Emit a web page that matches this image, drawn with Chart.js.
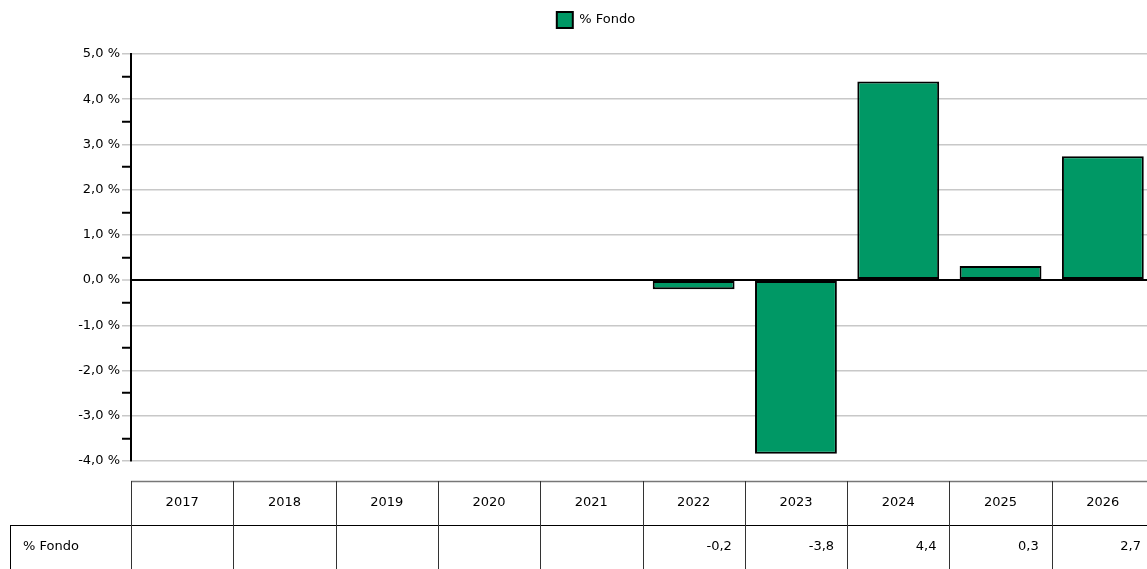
<!DOCTYPE html>
<html>
<head>
<meta charset="utf-8">
<script src="https://cdn.jsdelivr.net/npm/chart.js@4.4.1/dist/chart.umd.min.js"></script>
<style>
  html, body { margin: 0; padding: 0; background: #fff; overflow: hidden; }
  #wrap { width: 1154px; height: 569px; position: relative; }
</style>
</head>
<body>
<div id="wrap"><canvas id="chart"></canvas></div>
<script>
// Data
const years = ['2017', '2018', '2019', '2020', '2021', '2022', '2023', '2024', '2025', '2026'];
const fondo = [null, null, null, null, null, -0.2, -3.84, 4.39, 0.31, 2.74];
const fondoTable = ['', '', '', '', '', '-0,2', '-3,8', '4,4', '0,3', '2,7'];
const seriesName = '% Fondo';
const yMin = -4, yMax = 5;

const FONT = '"DejaVu Sans", sans-serif';
const GREEN = '#009865';

function isWhole(v){ return Math.abs(v - Math.round(v)) < 1e-6; }
function fmtPct(v){ return v.toFixed(1).replace('.', ',') + ' %'; }

// legend: a bit more room below it, and nudged right like the original
const legendTweak = {
    id: 'legendTweak',
    beforeInit(chart){
        const fit = chart.legend.fit;
        chart.legend.fit = function(){
            fit.bind(chart.legend)();
            this.height += 16;
        };
    },
    afterLayout(chart){
        chart.legend.left += 19;
        chart.legend.right += 19;
    }
};

// Data table drawn below the plot, columns follow the x scale
const tablePlugin = {
    id: 'dataTable',
    afterDraw(chart){
        const ctx = chart.ctx;
        const x = chart.scales.x;
        const area = chart.chartArea;
        const top = 481, mid = 525, bottom = 569, labelLeft = 10;
        const half = (x.getPixelForValue(1) - x.getPixelForValue(0)) / 2;
        ctx.save();
        // header top border
        ctx.strokeStyle = '#777';
        ctx.lineWidth = 1.5;
        ctx.beginPath();
        ctx.moveTo(area.left, top + 0.5); ctx.lineTo(area.right, top + 0.5);
        ctx.stroke();
        // row border
        ctx.lineWidth = 1;
        ctx.strokeStyle = '#000';
        ctx.beginPath();
        ctx.moveTo(labelLeft, mid + 0.5); ctx.lineTo(area.right, mid + 0.5);
        ctx.moveTo(labelLeft + 0.5, mid); ctx.lineTo(labelLeft + 0.5, bottom);
        ctx.stroke();
        // column separators
        ctx.strokeStyle = '#333';
        ctx.beginPath();
        for (let i = 0; i < years.length; i++) {
            const bx = Math.round(x.getPixelForValue(i) - half) + 0.5;
            ctx.moveTo(bx, top); ctx.lineTo(bx, bottom);
        }
        ctx.stroke();
        ctx.fillStyle = '#000';
        ctx.font = '13px ' + FONT;
        ctx.textBaseline = 'middle';
        years.forEach((yr, i) => {
            const cx = x.getPixelForValue(i);
            ctx.textAlign = 'center';
            ctx.fillText(yr, cx, (top + mid) / 2);
            ctx.textAlign = 'right';
            ctx.fillText(fondoTable[i], cx + half - 13, (mid + bottom) / 2);
        });
        ctx.textAlign = 'left';
        ctx.fillText(seriesName, labelLeft + 13, (mid + bottom) / 2);
        ctx.restore();
    }
};

new Chart(document.getElementById('chart'), {
    type: 'bar',
    data: {
        labels: years,
        datasets: [{
            label: seriesName,
            data: fondo,
            backgroundColor: GREEN,
            borderColor: '#000',
            borderWidth: 2,
            borderSkipped: false,
            barPercentage: 0.8,
            categoryPercentage: 1
        }]
    },
    options: {
        responsive: true,
        maintainAspectRatio: false,
        animation: false,
        layout: { padding: { left: 0, right: 0, top: 0, bottom: 108 } },
        plugins: {
            legend: {
                position: 'top',
                labels: {
                    font: { family: FONT, size: 13 },
                    color: '#000',
                    boxWidth: 16,
                    boxHeight: 16,
                    padding: 12
                }
            },
            tooltip: { enabled: false }
        },
        scales: {
            x: { display: false },
            y: {
                min: yMin,
                max: yMax,
                afterFit(scale){ scale.width = 131; },
                border: { display: true, color: '#000', width: 2 },
                grid: {
                    tickLength: 9,
                    color: c => {
                        const v = c.tick ? c.tick.value : 0;
                        if (Math.abs(v) < 1e-6) return '#000';
                        return isWhole(v) ? '#c8c8c8' : 'rgba(0,0,0,0)';
                    },
                    lineWidth: c => (c.tick && Math.abs(c.tick.value) < 1e-6) ? 2 : 1.5,
                    tickColor: c => {
                        const v = c.tick ? c.tick.value : 0;
                        return isWhole(v) ? '#c8c8c8' : '#000';
                    },
                    tickWidth: c => (c.tick && isWhole(c.tick.value)) ? 1.5 : 2
                },
                ticks: {
                    stepSize: 0.5,
                    autoSkip: false,
                    padding: 2,
                    color: '#000',
                    font: { family: FONT, size: 13 },
                    callback: v => isWhole(v) ? fmtPct(v) : ''
                }
            }
        }
    },
    plugins: [legendTweak, tablePlugin]
});
</script>
</body>
</html>
